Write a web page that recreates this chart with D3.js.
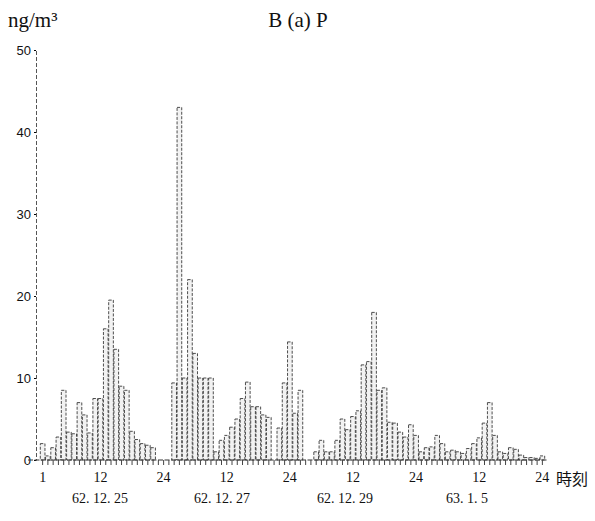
<!DOCTYPE html>
<html>
<head>
<meta charset="utf-8">
<script src="https://cdn.jsdelivr.net/npm/d3@7"></script>
<style>
  body { margin: 0; background: #fff; }
  svg { display: block; }
</style>
</head>
<body>
<div id="chart"></div>
<script>
// hourly B(a)P, ng/m3, 24 values per sampling day
const days = ["62. 12. 25", "62. 12. 27", "62. 12. 29", "63. 1. 5"];
const day1 = [2, 0.5, 1.5, 2.8, 8.5, 3.4, 3.2, 7, 5.5, 3.3, 7.5, 7.5,
              16, 19.5, 13.5, 9, 8.5, 3.5, 2.5, 2, 1.8, 1.5, 0, 0];
const day2 = [0, 9.4, 43, 10, 22, 13, 10, 10, 10, 1, 2.4, 3,
              4, 5, 7.5, 9.5, 6.5, 6.5, 5.5, 5.2, 0, 3.9, 9.4, 14.4];
const day3 = [5.7, 8.5, 0, 0, 1, 2.4, 1, 1, 2.4, 5, 3.7, 5.3,
              6, 11.6, 12, 18, 8.5, 8.8, 4.6, 4.5, 3.4, 2.8, 4.3, 3];
const day4 = [1, 1.5, 1.6, 3, 2, 1, 1.2, 1, 0.8, 1.4, 2, 2.7,
              4.5, 7, 3, 1, 0.8, 1.5, 1.3, 0.6, 0.3, 0.3, 0.2, 0.5];
const yTicks = [0, 10, 20, 30, 40, 50];

const width = 595, height = 521;
const values = [...day1, ...day2, ...day3, ...day4];
const data = values.map((v, i) => ({ i: i, hour: (i % 24) + 1, value: v }));

const svg = d3.select("#chart").append("svg")
    .attr("width", width)
    .attr("height", height);

const x = d3.scaleBand()
    .domain(d3.range(values.length))
    .range([40, 545])
    .padding(0);

const y = d3.scaleLinear()
    .domain([0, 50])
    .range([460, 50]);

// bars (hollow, dashed outline like the printed original)
svg.append("g")
    .selectAll("rect")
    .data(data.filter(d => d.value > 0))
    .join("rect")
    .attr("x", d => x(d.i) + 0.3)
    .attr("y", d => y(d.value))
    .attr("width", x.bandwidth() - 0.6)
    .attr("height", d => y(0) - y(d.value))
    .attr("fill", "#f2f2f2")
    .attr("stroke", "#3a3a3a")
    .attr("stroke-width", 0.9)
    .attr("stroke-dasharray", "3,1.5");

// y axis
const yAxis = svg.append("g")
    .attr("transform", "translate(36,0)")
    .call(d3.axisLeft(y).tickValues(yTicks).tickSize(2).tickPadding(3));
yAxis.select(".domain")
    .attr("stroke", "#555")
    .attr("stroke-dasharray", "4,2");
yAxis.selectAll("text")
    .attr("font-family", "Liberation Sans Narrow, Liberation Sans, sans-serif")
    .attr("font-size", 13)
    .attr("fill", "#111");

// x axis
const xAxis = svg.append("g")
    .attr("transform", `translate(0,${y(0)})`)
    .call(d3.axisBottom(x)
        .tickValues(d3.range(values.length))
        .tickSize(5)
        .tickPadding(7)
        .tickFormat(i => {
            const h = (i % 24) + 1;
            if (i === 0) return "1";
            return (h === 12 || h === 24) ? String(h) : "";
        }));
xAxis.select(".domain")
    .attr("d", `M28,0H548`)
    .attr("stroke", "#333")
    .attr("stroke-dasharray", "5,1.5");
xAxis.selectAll(".tick line").attr("stroke", "#444");
xAxis.selectAll("text")
    .attr("font-family", "Liberation Serif, serif")
    .attr("font-size", 14)
    .attr("fill", "#111");

svg.append("text")
    .attr("x", 556)
    .attr("y", 485)
    .attr("font-family", "Noto Sans CJK JP, sans-serif")
    .attr("font-size", 16)
    .attr("fill", "#111")
    .text("時刻");

// day labels
svg.append("g")
    .selectAll("text")
    .data(days)
    .join("text")
    .attr("x", (d, k) => [100, 222, 345, 467][k])
    .attr("y", 503)
    .attr("text-anchor", "middle")
    .attr("font-family", "Liberation Serif, serif")
    .attr("font-size", 14)
    .attr("fill", "#111")
    .text(d => d);

// title and unit
svg.append("text")
    .attr("x", 298)
    .attr("y", 27)
    .attr("text-anchor", "middle")
    .attr("font-family", "Liberation Serif, serif")
    .attr("font-size", 21)
    .attr("fill", "#111")
    .text("B (a) P");

svg.append("text")
    .attr("x", 8)
    .attr("y", 27)
    .attr("font-family", "Liberation Serif, serif")
    .attr("font-size", 21)
    .attr("fill", "#111")
    .text("ng/m³");
</script>
</body>
</html>
